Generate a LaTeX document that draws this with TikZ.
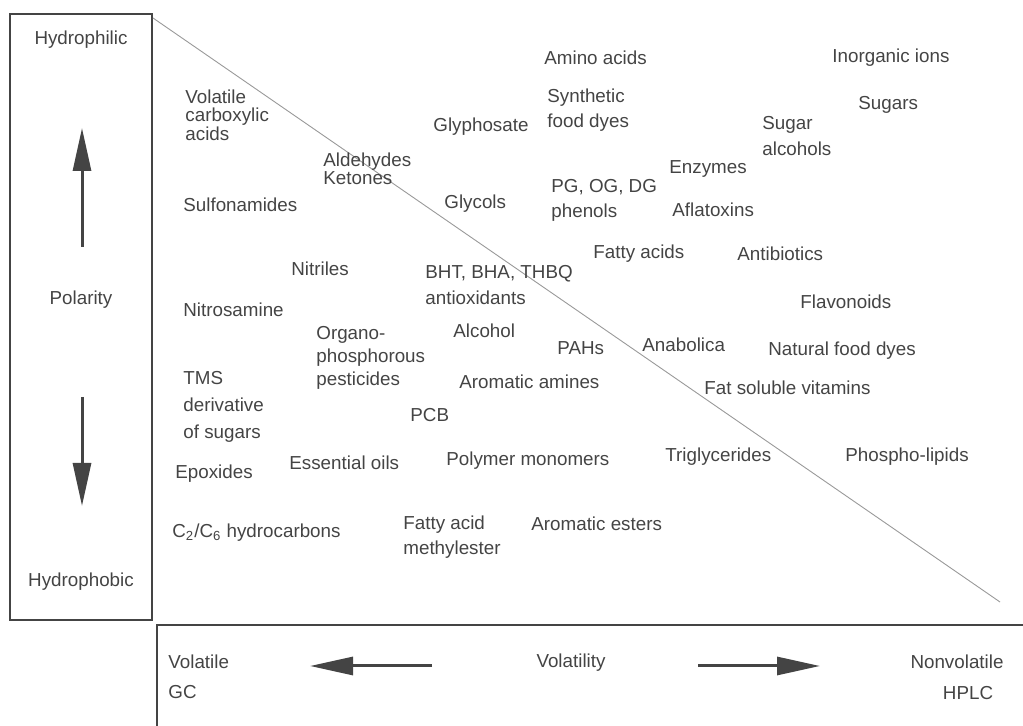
\documentclass[tikz,border=0pt]{standalone}
\usepackage{fontspec}
\setmainfont{Liberation Sans}
\usetikzlibrary{arrows.meta}
\definecolor{ink}{HTML}{444444}

\begin{document}
\begin{tikzpicture}[x=0.5pt,y=-0.5pt,
  lbl/.style={anchor=west,align=left,inner sep=0pt,text=ink,font=\fontsize{9.4}{12.6}\selectfont},
  tight/.style={lbl,font=\fontsize{9.4}{9.2}\selectfont},
  axis/.style={inner sep=0pt,text=ink,font=\fontsize{9.4}{12.6}\selectfont},
  frame/.style={draw=ink,line width=0.6pt},
  bigarrow/.style={draw=ink,line width=1.5pt,-{Triangle[length=21.5pt,width=9pt]}}]
\useasboundingbox (0,0) rectangle (1023,726);
% frames and diagonal
\draw[frame] (10,14) rectangle (152,620);
\draw[frame] (1023,625) -- (157,625) -- (157,726);
\coordinate (dtop) at (153,18);
\coordinate (dbot) at (1000,602);
\draw[black!40,line width=0.45pt] (dtop) -- (dbot);
% polarity axis
\node[axis] (philic) at (81,40) {Hydrophilic};
\node[axis] (pol) at (81,300) {Polarity};
\node[axis] (phobic) at (81,582) {Hydrophobic};
\coordinate (upS) at (82,247);
\coordinate (upE) at (82,128);
\coordinate (dnS) at (82,397);
\coordinate (dnE) at (82,506);
\draw[bigarrow] (upS) -- (upE);
\draw[bigarrow] (dnS) -- (dnE);
% volatility axis
\node[axis,anchor=west] (vol) at (168,662) {Volatile};
\node[axis,anchor=west] (gc) at (168,692) {GC};
\node[axis] (volty) at (571,663) {Volatility};
\node[axis] (nonvol) at (957,662) {Nonvolatile};
\node[axis] (hplc) at (968,693) {HPLC};
\coordinate (lS) at (432,666);
\coordinate (lE) at (310,666);
\coordinate (rS) at (698,666);
\coordinate (rE) at (820,666);
\draw[bigarrow] (lS) -- (lE);
\draw[bigarrow] (rS) -- (rE);
% compounds
\node[tight] (vca) at (185,115) {Volatile\\carboxylic\\acids};
\node[tight] (ald) at (323,169) {Aldehydes\\Ketones};
\node[lbl] (sulf) at (183,205) {Sulfonamides};
\node[lbl] (glyph) at (433,127) {Glyphosate};
\node[lbl] (amino) at (544,58) {Amino acids};
\node[lbl] (synth) at (547,110) {Synthetic\\food dyes};
\node[lbl] (inorg) at (832,58) {Inorganic ions};
\node[lbl] (sugars) at (858,105) {Sugars};
\node[lbl] (sugalc) at (762,136) {Sugar\\alcohols};
\node[lbl] (enz) at (669,169) {Enzymes};
\node[lbl] (pg) at (551,200) {PG, OG, DG\\phenols};
\node[lbl] (glycols) at (444,204) {Glycols};
\node[lbl] (afla) at (672,210) {Aflatoxins};
\node[lbl] (fatty) at (593,254) {Fatty acids};
\node[lbl] (antib) at (737,254) {Antibiotics};
\node[lbl] (nitr) at (291,269) {Nitriles};
\node[lbl] (bht) at (425,285) {BHT, BHA, THBQ\\antioxidants};
\node[lbl] (flav) at (800,302) {Flavonoids};
\node[lbl] (nitros) at (183,310) {Nitrosamine};
\node[lbl,font=\fontsize{9.4}{11.5}\selectfont] (organo) at (316,358) {Organo-\\phosphorous\\pesticides};
\node[lbl] (alcohol) at (453,331) {Alcohol};
\node[lbl] (pahs) at (557,348) {PAHs};
\node[lbl] (anab) at (642,345) {Anabolica};
\node[lbl] (natdyes) at (768,351) {Natural food dyes};
\node[lbl,font=\fontsize{9.4}{13.5}\selectfont] (tms) at (183,407) {TMS\\derivative\\of sugars};
\node[lbl] (aromam) at (459,382) {Aromatic amines};
\node[lbl] (fatvit) at (704,388) {Fat soluble vitamins};
\node[lbl] (pcb) at (410,415) {PCB};
\node[lbl] (trig) at (665,457) {Triglycerides};
\node[lbl] (phos) at (845,457) {Phospho-lipids};
\node[lbl] (epox) at (175,474) {Epoxides};
\node[lbl] (essoil) at (289,463) {Essential oils};
\node[lbl] (polym) at (446,461) {Polymer monomers};
\node[lbl] (hydroc) at (172,533) {C\textsubscript{2}/C\textsubscript{6} hydrocarbons};
\node[lbl] (fame) at (403,537) {Fatty acid\\methylester};
\node[lbl] (aromest) at (531,524) {Aromatic esters};
\end{tikzpicture}
\end{document}
